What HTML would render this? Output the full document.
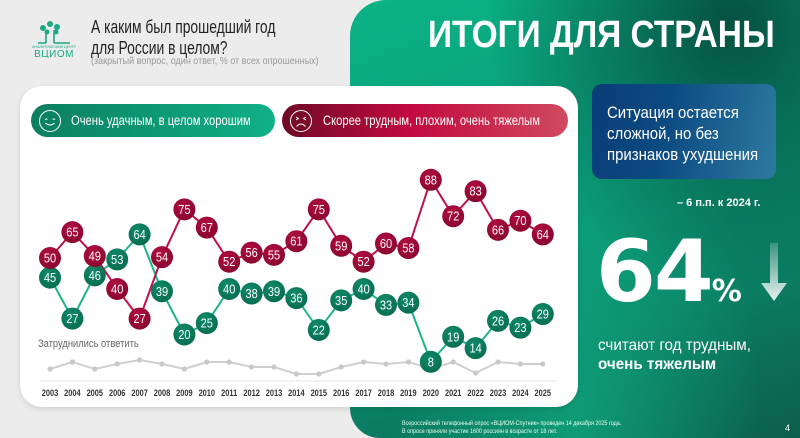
<!DOCTYPE html>
<html style="overflow:hidden;height:438px"><head><meta charset="utf-8"><style>
body{margin:0;width:800px;height:438px;overflow:hidden;background:#ececec;font-family:"Liberation Sans",sans-serif;position:relative}
.abs{position:absolute;white-space:nowrap}
.c{transform-origin:0 0}
</style></head><body>
<div class="abs" style="left:350px;top:0;width:450px;height:438px;border-radius:36px 0 0 30px;background:linear-gradient(160deg,#0bb386 0%,#0a9a78 45%,#0c5e4c 100%);"></div>
<div class="abs" style="left:350px;top:0;width:450px;height:438px;border-radius:36px 0 0 30px;background:radial-gradient(ellipse at 85% 5%,rgba(5,60,50,0.8),rgba(0,0,0,0) 45%),radial-gradient(ellipse at 50% 100%,rgba(20,200,150,0.5),rgba(0,0,0,0) 60%);"></div>
<svg class="abs" style="left:26px;top:18px" width="56" height="40" viewBox="0 0 56 40">
<g fill="none" stroke="#1aa982" stroke-width="1.6"><path d="M20 25 V15 M28 25 V12 M20 25 H12 M28 25 H44"/></g>
<g fill="#1aa982"><circle cx="17" cy="10" r="3"/><circle cx="24" cy="6" r="3"/><circle cx="31" cy="9" r="3"/><circle cx="21" cy="14" r="2.5"/><circle cx="30" cy="14" r="2.5"/></g>
<text x="28" y="30" font-size="3.5" fill="#1aa982" text-anchor="middle">АНАЛИТИЧЕСКИЙ ЦЕНТР</text>
<text x="28" y="39" font-size="10" fill="#1aa982" text-anchor="middle" letter-spacing="0.5">ВЦИОМ</text>
</svg>
<div class="abs c" style="left:91px;top:17px;font-size:18px;line-height:21px;color:#222;transform:scaleX(0.77)">А каким был прошедший год<br>для России в целом?</div>
<div class="abs c" style="left:91px;top:56px;font-size:10px;color:#999;transform:scaleX(0.9)">(закрытый вопрос, один ответ, % от всех опрошенных)</div>
<div class="abs c" style="left:428px;top:14px;font-size:38px;font-weight:bold;color:#fff;transform:scaleX(0.88)">ИТОГИ ДЛЯ СТРАНЫ</div>
<div class="abs" style="left:592px;top:84px;width:184px;height:95px;border-radius:10px;background:linear-gradient(100deg,#0a3d78 0%,#0c4a82 40%,#2d7aa0 100%);"></div>
<div class="abs c" style="left:607px;top:102px;font-size:17px;line-height:21px;color:#fff;transform:scaleX(0.88)">Ситуация остается<br>сложной, но без<br>признаков ухудшения</div>
<div class="abs" style="left:677px;top:197px;font-size:11px;font-weight:bold;color:#fff">– 6 п.п. к 2024 г.</div>
<div class="abs" style="left:596px;top:222px;font-size:86px;font-weight:bold;color:#fff;line-height:100px;letter-spacing:-2px;font-family:'DejaVu Sans',sans-serif">64<span style="font-size:30px;letter-spacing:0">%</span></div>
<svg class="abs" style="left:760px;top:243px" width="28" height="60"><defs><linearGradient id="ar" x1="0" y1="0" x2="0" y2="1"><stop offset="0" stop-color="#fff" stop-opacity="0.2"/><stop offset="1" stop-color="#fff" stop-opacity="0.9"/></linearGradient></defs><path d="M10 0 H18 V40 H27 L14 58 L1 40 H10 Z" fill="url(#ar)"/></svg>
<div class="abs c" style="left:598px;top:336px;font-size:16px;line-height:19px;color:#fff;transform:scaleX(0.95)">считают год трудным,<br><b>очень тяжелым</b></div>
<div class="abs c" style="left:402px;top:420px;font-size:6px;line-height:8px;color:#e8fff5;transform:scaleX(0.9)">Всероссийский телефонный опрос «ВЦИОМ-Спутник» проведен 14 декабря 2025 года.<br>В опросе приняли участие 1600 россиян в возрасте от 18 лет.</div>
<div class="abs" style="left:785px;top:423px;font-size:9px;color:#fff">4</div>
<div class="abs" style="left:20px;top:86px;width:558px;height:321px;border-radius:22px;background:#fff;box-shadow:0 2px 6px rgba(0,0,0,0.12)"></div>
<div class="abs" style="left:31px;top:104px;width:244px;height:33px;border-radius:17px;background:linear-gradient(90deg,#0b7f60,#10b088)"></div>
<div class="abs" style="left:282px;top:104px;width:286px;height:33px;border-radius:17px;background:linear-gradient(90deg,#6e0a25,#c20a40 45%,#d04a5e)"></div>
<svg class="abs" style="left:38px;top:109px" width="24" height="24"><circle cx="12" cy="12" r="10.5" fill="none" stroke="#fff" stroke-width="1"/><path d="M7 10.5 q1.2-1 2.4 0 M14.6 10.5 q1.2-1 2.4 0 M7.5 14 q4.5 4 9 0" fill="none" stroke="#fff" stroke-width="1"/></svg>
<svg class="abs" style="left:289px;top:109px" width="24" height="24"><circle cx="12" cy="12" r="10.5" fill="none" stroke="#fff" stroke-width="1"/><path d="M7 8 l2.5 1.5 l-2.5 1.5 M17 8 l-2.5 1.5 l2.5 1.5 M7.5 17.5 q4.5 -5 9 0" fill="none" stroke="#fff" stroke-width="1"/></svg>
<div class="abs c" style="left:71px;top:112px;font-size:14px;color:#fff;transform:scaleX(0.8)">Очень удачным, в целом хорошим</div>
<div class="abs c" style="left:323px;top:112px;font-size:14px;color:#fff;transform:scaleX(0.8)">Скорее трудным, плохим, очень тяжелым</div>
<div class="abs c" style="left:38px;top:338px;font-size:11px;color:#666;transform:scaleX(0.85)">Затруднились ответить</div>
<svg class="abs" style="left:0;top:0" width="800" height="438" id="ch"></svg>
<script>
var yrs=[];for(var i=2003;i<=2025;i++)yrs.push(i);
var G=[45,27,46,53,64,39,20,25,40,38,39,36,22,35,40,33,34,8,19,14,26,23,29];
var R=[50,65,49,40,27,54,75,67,52,56,55,61,75,59,52,60,58,88,72,83,66,70,64];
var Z=[369,362,369,364,360,364,369,362,362,367,367,374,374,367,362,364,362,369,362,373,362,364,364];
function X(i){return 50+i*22.4}
function Y(v){return 380-2.275*v}
var F="Liberation Sans,sans-serif";
var s='<defs><radialGradient id="gr" cx="0.4" cy="0.3" r="0.8"><stop offset="0" stop-color="#0e8a68"/><stop offset="1" stop-color="#066a4e"/></radialGradient><radialGradient id="rr" cx="0.4" cy="0.3" r="0.8"><stop offset="0" stop-color="#b00c40"/><stop offset="1" stop-color="#85062c"/></radialGradient></defs>';
s+='<line x1="40" x2="556" y1="381" y2="381" stroke="#e6e6e6"/>';
var p='';Z.forEach(function(z,i){p+=(i?'L':'M')+X(i)+' '+z});
s+='<path d="'+p+'" fill="none" stroke="#cfcfcf" stroke-width="2"/>';
Z.forEach(function(z,i){s+='<circle cx="'+X(i)+'" cy="'+z+'" r="2.6" fill="#c8c8c8"/>'});
function ry(i){if(i==0)return 258;if(i==2)return 256;return Y(R[i]);}
var pg='',pr='';
G.forEach(function(v,i){pg+=(i?'L':'M')+X(i)+' '+Y(v)});
R.forEach(function(v,i){pr+=(i?'L':'M')+X(i)+' '+ry(i)});
s+='<path d="'+pg+'" fill="none" stroke="#1db48a" stroke-width="2"/>';
s+='<path d="'+pr+'" fill="none" stroke="#c0104a" stroke-width="2"/>';
function dot(x,y,v,f){return '<circle cx="'+x+'" cy="'+y+'" r="11" fill="url(#'+f+')"/><text x="'+x+'" y="'+(y+4.5)+'" font-size="13" fill="#fff" text-anchor="middle" font-family="'+F+'" transform="translate('+x+' 0) scale(0.85 1) translate('+(-x)+' 0)">'+v+'</text>'}
G.forEach(function(v,i){s+=dot(X(i),Y(v),v,'gr')});
R.forEach(function(v,i){s+=dot(X(i),ry(i),v,'rr')});
yrs.forEach(function(y,i){var x=X(i);s+='<text x="'+x+'" y="396" font-size="9.5" font-weight="bold" fill="#333" text-anchor="middle" font-family="'+F+'" transform="translate('+x+' 0) scale(0.78 1) translate('+(-x)+' 0)">'+y+'</text>'});
document.getElementById('ch').innerHTML=s;
</script>
</body></html>
